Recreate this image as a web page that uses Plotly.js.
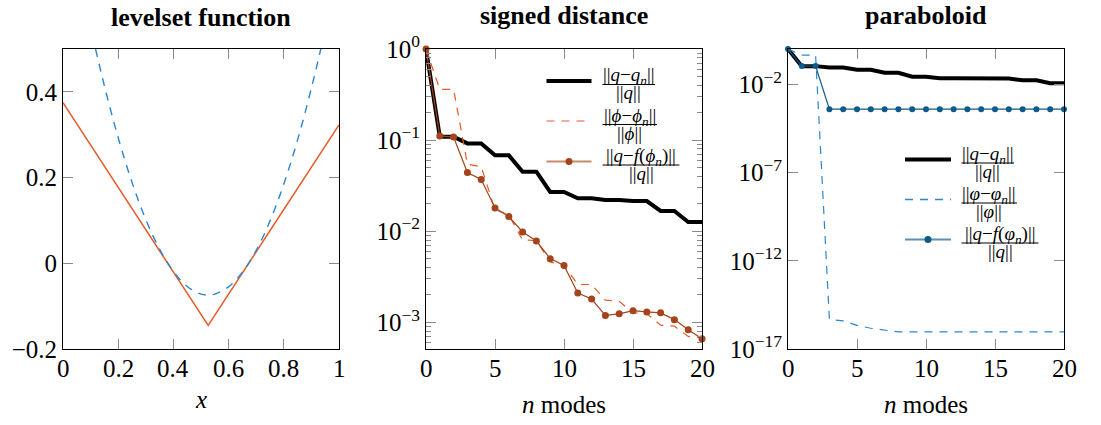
<!DOCTYPE html>
<html>
<head>
<meta charset="utf-8">
<script src="https://cdn.plot.ly/plotly-3.0.1.min.js"></script>
<style>
  html, body { margin: 0; padding: 0; background: #fff; }
  #chart { width: 1101px; height: 425px; }
</style>
</head>
<body>
<div id="chart"></div>
<script>
// ---------- data ----------
// panel 1: levelset function
const levelX = [0, 0.526, 1];
const levelY = [0.375, -0.145, 0.323];
const paraX = [0.118, 0.15, 0.2, 0.25, 0.3, 0.35, 0.4, 0.45, 0.5, 0.526, 0.55, 0.6, 0.65, 0.7, 0.75, 0.8, 0.85, 0.9, 0.934];
const paraY = [0.500, 0.414, 0.293, 0.189, 0.102, 0.033, -0.019, -0.054, -0.072, -0.074, -0.072, -0.055, -0.021, 0.030, 0.099, 0.185, 0.288, 0.409, 0.500];

// panels 2 & 3: number of modes
const modes = [0,1,2,3,4,5,6,7,8,9,10,11,12,13,14,15,16,17,18,19,20];

// panel 2: signed distance
const sdQErr   = [1, 0.109, 0.109, 0.092, 0.092, 0.068, 0.068, 0.045, 0.045, 0.027, 0.027, 0.023, 0.023, 0.022, 0.022, 0.0214, 0.0214, 0.0167, 0.0167, 0.0126, 0.0126];
const sdPhiErr = [1, 0.36, 0.36, 0.0545, 0.051, 0.0173, 0.015, 0.008, 0.0079, 0.0046, 0.0042, 0.0026, 0.0026, 0.00175, 0.0017, 0.00127, 0.00125, 0.00093, 0.00091, 0.0007, 0.00068];
const sdFErr   = [1, 0.111, 0.108, 0.044, 0.037, 0.018, 0.0145, 0.0098, 0.0078, 0.005, 0.0042, 0.0021, 0.0018, 0.00119, 0.00124, 0.00134, 0.0013, 0.00127, 0.00107, 0.00083, 0.00066];

// panel 3: paraboloid
const pbQErr   = [1, 0.107, 0.107, 0.09, 0.09, 0.066, 0.066, 0.045, 0.045, 0.027, 0.027, 0.022, 0.022, 0.022, 0.021, 0.021, 0.021, 0.017, 0.017, 0.0115, 0.0115];
const pbPhiErr = [1, 0.45, 0.45, 4.7e-16, 3.9e-16, 2.2e-16, 1.5e-16, 1.15e-16, 9.3e-17, 9.3e-17, 9.3e-17, 9.3e-17, 9.3e-17, 9.3e-17, 9.3e-17, 9.3e-17, 9.3e-17, 9.3e-17, 9.3e-17, 9.3e-17, 9.3e-17];
const pbFErr   = [1, 0.108, 0.108, 3.9e-4, 3.9e-4, 3.9e-4, 3.9e-4, 3.9e-4, 3.9e-4, 3.9e-4, 3.9e-4, 3.9e-4, 3.9e-4, 3.9e-4, 3.9e-4, 3.9e-4, 3.9e-4, 3.9e-4, 3.9e-4, 3.9e-4, 3.9e-4];

// tick labels
const titles = ['levelset function', 'signed distance', 'paraboloid'];
const levelXTicks = [0, 0.2, 0.4, 0.6, 0.8, 1];
const levelXTickText = ['0', '0.2', '0.4', '0.6', '0.8', '1'];
const modeTicks = [0, 5, 10, 15, 20];
const modeTickText = ['0', '5', '10', '15', '20'];
const levelYTicks = [-0.2, 0, 0.2, 0.4];
const sdYTicks = [1, 0.1, 0.01, 0.001];
const sdYTickText = ['10<sup>0</sup>', '10<sup>−1</sup>', '10<sup>−2</sup>', '10<sup>−3</sup>'];
const pbYTicks = [1e-2, 1e-7, 1e-12, 1e-17];
const pbYTickText = ['10<sup>−2</sup>', '10<sup>−7</sup>', '10<sup>−12</sup>', '10<sup>−17</sup>'];
const minorMult = [2,3,4,5,6,7,8,9];
const minorDecades = [1e-4, 1e-3, 1e-2, 1e-1];

// legend labels
const sdLegend = [
  ['||<i>q</i>−<i>q</i><sub><i>n</i></sub>||', '||<i>q</i>||'],
  ['||<i>ϕ</i>−<i>ϕ</i><sub><i>n</i></sub>||', '||<i>ϕ</i>||'],
  ['||<i>q</i>−<i>f</i>(<i>ϕ</i><sub><i>n</i></sub>)||', '||<i>q</i>||']
];
const pbLegend = [
  ['||<i>q</i>−<i>q</i><sub><i>n</i></sub>||', '||<i>q</i>||'],
  ['||<i>φ</i>−<i>φ</i><sub><i>n</i></sub>||', '||<i>φ</i>||'],
  ['||<i>q</i>−<i>f</i>(<i>φ</i><sub><i>n</i></sub>)||', '||<i>q</i>||']
];

// ---------- styling ----------
const FONT = 'Liberation Serif';
const ORANGE = '#e65a28';
const BLUE = '#2a86d1';
const BROWN = '#a3441a';
const DBLUE = '#0e5a8a';
const DASH = '8px,7px';
const W = 1101, H = 425, T = 49, B = 76, PH = H - T - B;
const px = v => v / W;
const py = v => (H - B - v) / PH;

const minorVals = [];
minorDecades.forEach(d => minorMult.forEach(m => minorVals.push(m * d)));

const axisCommon = {
  showline: true, linecolor: '#000', linewidth: 1, mirror: 'ticks',
  ticks: 'inside', ticklen: 10, tickwidth: 1, tickcolor: '#8a8a8a',
  showgrid: false, zeroline: false,
  tickfont: {family: FONT, size: 25, color: '#000'},
  fixedrange: true
};
const xCommon = Object.assign({}, axisCommon, {showticklabels: false, tickmode: 'array'});
const yCommon = Object.assign({}, axisCommon, {});

const traces = [
  {x: levelX, y: levelY, xaxis: 'x', yaxis: 'y', mode: 'lines',
   line: {color: ORANGE, width: 1.5}, cliponaxis: false},
  {x: paraX, y: paraY, xaxis: 'x', yaxis: 'y', mode: 'lines',
   line: {color: BLUE, width: 1.4, dash: DASH, shape: 'spline'}, cliponaxis: false},

  {x: modes, y: sdQErr, xaxis: 'x2', yaxis: 'y2', mode: 'lines',
   line: {color: '#000', width: 4}, cliponaxis: false},
  {x: modes, y: sdPhiErr, xaxis: 'x2', yaxis: 'y2', mode: 'lines',
   line: {color: ORANGE, width: 1.2, dash: DASH}, cliponaxis: false},
  {x: modes, y: sdFErr, xaxis: 'x2', yaxis: 'y2', mode: 'lines+markers',
   line: {color: BROWN, width: 1.2}, marker: {color: BROWN, size: 7}, cliponaxis: false},

  {x: modes, y: pbQErr, xaxis: 'x3', yaxis: 'y3', mode: 'lines',
   line: {color: '#000', width: 4}, cliponaxis: false},
  {x: modes, y: pbPhiErr, xaxis: 'x3', yaxis: 'y3', mode: 'lines',
   line: {color: BLUE, width: 1.2, dash: DASH}, cliponaxis: false},
  {x: modes, y: pbFErr, xaxis: 'x3', yaxis: 'y3', mode: 'lines+markers',
   line: {color: DBLUE, width: 1.2}, marker: {color: DBLUE, size: 6}, cliponaxis: false}
];

const annotations = [];
const shapes = [];

// titles (top of text box)
const titleCfg = [[201, 2], [564, 0], [926, 0]];
titles.forEach((t, i) => annotations.push({
  text: '<b>' + t + '</b>', xref: 'paper', yref: 'paper',
  x: px(titleCfg[i][0]), y: py(titleCfg[i][1]), xanchor: 'center', yanchor: 'top',
  showarrow: false, borderpad: 0, font: {family: FONT, size: 26, color: '#000'}
}));

// x tick labels, placed on the axes' own scales
function addXTickLabels(axisRef, vals, texts) {
  vals.forEach((v, i) => annotations.push({
    text: texts[i], xref: axisRef, yref: 'paper', x: v, y: py(368),
    xanchor: 'center', yanchor: 'middle', showarrow: false, borderpad: 0,
    font: {family: FONT, size: 25, color: '#000'}
  }));
}
addXTickLabels('x', levelXTicks, levelXTickText);
addXTickLabels('x2', modeTicks, modeTickText);
addXTickLabels('x3', modeTicks, modeTickText);

// x-axis titles
[[201, 399, '<i>x</i>'], [564, 404, '<i>n</i> modes'], [926, 404, '<i>n</i> modes']].forEach(a => annotations.push({
  text: a[2], xref: 'paper', yref: 'paper', x: px(a[0]), y: py(a[1]),
  xanchor: 'center', yanchor: 'middle', showarrow: false,
  font: {family: FONT, size: 25, color: '#000'}
}));

// custom legends (fraction labels)
function addLegend(items, sample, textLeft, barRights, rowY, styles) {
  items.forEach((lab, i) => {
    const y = rowY[i];
    const st = styles[i];
    shapes.push({type: 'line', xref: 'paper', yref: 'paper',
      x0: px(sample[0]), x1: px(sample[1]), y0: py(y), y1: py(y),
      line: {color: st.color, width: st.width, dash: st.dash || 'solid'}});
    if (st.marker) {
      const mx = (sample[0] + sample[1]) / 2;
      shapes.push({type: 'circle', xref: 'paper', yref: 'paper',
        xsizemode: 'pixel', ysizemode: 'pixel', xanchor: px(mx), yanchor: py(y),
        x0: -3.5, x1: 3.5, y0: -3.5, y1: 3.5,
        fillcolor: st.marker, line: {width: 0}});
    }
    const barY = y + 3.5;
    const cx = (textLeft + barRights[i]) / 2;
    shapes.push({type: 'line', xref: 'paper', yref: 'paper',
      x0: px(textLeft), x1: px(barRights[i]), y0: py(barY), y1: py(barY),
      line: {color: '#000', width: 1.1}});
    annotations.push({text: lab[0], xref: 'paper', yref: 'paper', x: px(cx), y: py(barY),
      xanchor: 'center', yanchor: 'bottom', yshift: -5, showarrow: false, borderpad: 0,
      font: {family: FONT, size: 19, color: '#000'}});
    annotations.push({text: lab[1], xref: 'paper', yref: 'paper', x: px(cx), y: py(barY),
      xanchor: 'center', yanchor: 'top', yshift: 3, showarrow: false, borderpad: 0,
      font: {family: FONT, size: 19, color: '#000'}});
  });
}
addLegend(sdLegend, [546.5, 591.5], 602.5, [655, 657, 679.5], [81, 121, 161.5], [
  {color: '#000', width: 4},
  {color: ORANGE, width: 1.2, dash: DASH},
  {color: '#c38a6b', width: 2, marker: BROWN}
]);
addLegend(pbLegend, [905, 951], 961.5, [1014, 1017, 1038.5], [159.5, 199.5, 239.5], [
  {color: '#000', width: 4},
  {color: BLUE, width: 1.3, dash: DASH},
  {color: '#5a8fb8', width: 2, marker: DBLUE}
]);

const layout = {
  width: W, height: H, autosize: false,
  margin: {l: 0, r: 0, t: T, b: B, pad: 0},
  paper_bgcolor: '#fff', plot_bgcolor: '#fff',
  showlegend: false,
  font: {family: FONT, size: 25, color: '#000'},
  xaxis: Object.assign({}, xCommon, {domain: [px(63), px(339)], anchor: 'y',
    range: [0, 1], tickvals: levelXTicks}),
  yaxis: Object.assign({}, yCommon, {domain: [0, 1], anchor: 'x',
    range: [-0.2, 0.5], tickmode: 'array', tickvals: levelYTicks}),
  xaxis2: Object.assign({}, xCommon, {domain: [px(426), px(702)], anchor: 'y2',
    range: [0, 20], tickvals: modeTicks}),
  yaxis2: Object.assign({}, yCommon, {domain: [0, 1], anchor: 'x2', type: 'log',
    range: [-3.293, 0], tickmode: 'array', tickvals: sdYTicks, ticktext: sdYTickText,
    minor: {tickmode: 'array', tickvals: minorVals, ticks: 'inside', ticklen: 5,
      tickwidth: 1, tickcolor: '#8a8a8a', showgrid: false}}),
  xaxis3: Object.assign({}, xCommon, {domain: [px(788), px(1064)], anchor: 'y3',
    range: [0, 20], tickvals: modeTicks}),
  yaxis3: Object.assign({}, yCommon, {domain: [0, 1], anchor: 'x3', type: 'log',
    range: [-17, 0], tickmode: 'array', tickvals: pbYTicks, ticktext: pbYTickText}),
  annotations: annotations,
  shapes: shapes
};

Plotly.newPlot('chart', traces, layout, {staticPlot: true, displayModeBar: false});
</script>
</body>
</html>
